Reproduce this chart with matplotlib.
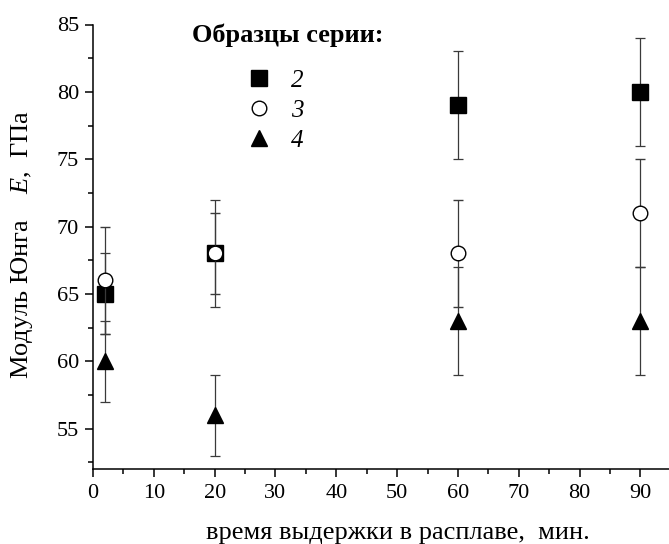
import numpy as np
import matplotlib.pyplot as plt
from matplotlib.lines import Line2D
from matplotlib.ticker import MultipleLocator

plt.rcParams['font.family'] = ['Liberation Serif', 'DejaVu Serif']
plt.rcParams['mathtext.fontset'] = 'custom'
plt.rcParams['mathtext.rm'] = 'Liberation Serif'
plt.rcParams['mathtext.it'] = 'Liberation Serif:italic'

# время выдержки, мин
t = [2, 20, 60, 90]
# серия 2
e2 = [65, 68, 79, 80]
err2 = [3, 4, 4, 4]
# серия 3
e3 = [66, 68, 68, 71]
err3 = [4, 3, 4, 4]
# серия 4
e4 = [60, 56, 63, 63]
err4 = [3, 3, 4, 4]

labels = ['2', '3', '4']

W, H = 669, 544
fig = plt.figure(figsize=(W / 100, H / 100), dpi=100)
# оси: левая граница 93 px, верх 24.5 px, низ 469 px
ax = fig.add_axes([93 / W, 1 - 469 / H, (W - 93) / W, (469 - 24.5) / H])

ekw = dict(ecolor='#3a3a3a', elinewidth=0.9, capsize=3.8, capthick=0.9, linestyle='none')
ax.errorbar(t, e4, yerr=err4, marker='^', ms=12, mfc='black', mec='black', **ekw, zorder=3)
ax.errorbar(t, e2, yerr=err2, marker='s', ms=11, mfc='black', mec='black', **ekw, zorder=4)
ax.errorbar(t, e3, yerr=err3, marker='o', ms=10.5, mfc='white', mec='black', mew=1.0, **ekw, zorder=5)

ax.set_xlim(0, 94.7)
ax.set_ylim(52.0, 85)
ax.xaxis.set_major_locator(MultipleLocator(10))
ax.xaxis.set_minor_locator(MultipleLocator(5))
ax.set_yticks([55, 60, 65, 70, 75, 80, 85])
ax.yaxis.set_minor_locator(MultipleLocator(2.5))
ax.spines['top'].set_visible(False)
ax.spines['right'].set_visible(False)
for s in ['left', 'bottom']:
    ax.spines[s].set_linewidth(1.1)
ax.tick_params(which='major', length=6, width=1.1, labelsize=16, direction='out', pad=4)
ax.tick_params(axis='x', which='major', pad=5)
ax.tick_params(which='minor', length=3.5, width=1.1, direction='out')

fig.text(398 / W, 1 - 533 / H, 'время выдержки в расплаве,  мин.', fontsize=19,
         ha='center', va='center')
fig.text(22 / W, 1 - 245 / H, 'Модуль Юнга    $E$,  ГПа', fontsize=19,
         rotation=90, ha='center', va='center')

fig.text(287.5 / W, 1 - 35 / H, 'Образцы серии:', fontsize=19, fontweight='bold',
         ha='center', va='center')
handles = [Line2D([], [], marker='s', ms=11, color='black', ls='none'),
           Line2D([], [], marker='o', ms=10.5, mfc='white', mec='black', ls='none'),
           Line2D([], [], marker='^', ms=12, color='black', ls='none')]
ax.legend(handles, labels, loc='upper left', bbox_to_anchor=(233.5 / W, 1 - 57 / H),
          bbox_transform=fig.transFigure, frameon=False, borderpad=0,
          handlelength=1.0, handletextpad=0.8, labelspacing=0.3,
          prop={'style': 'italic', 'size': 18})

fig.savefig('out.png', dpi=100)
